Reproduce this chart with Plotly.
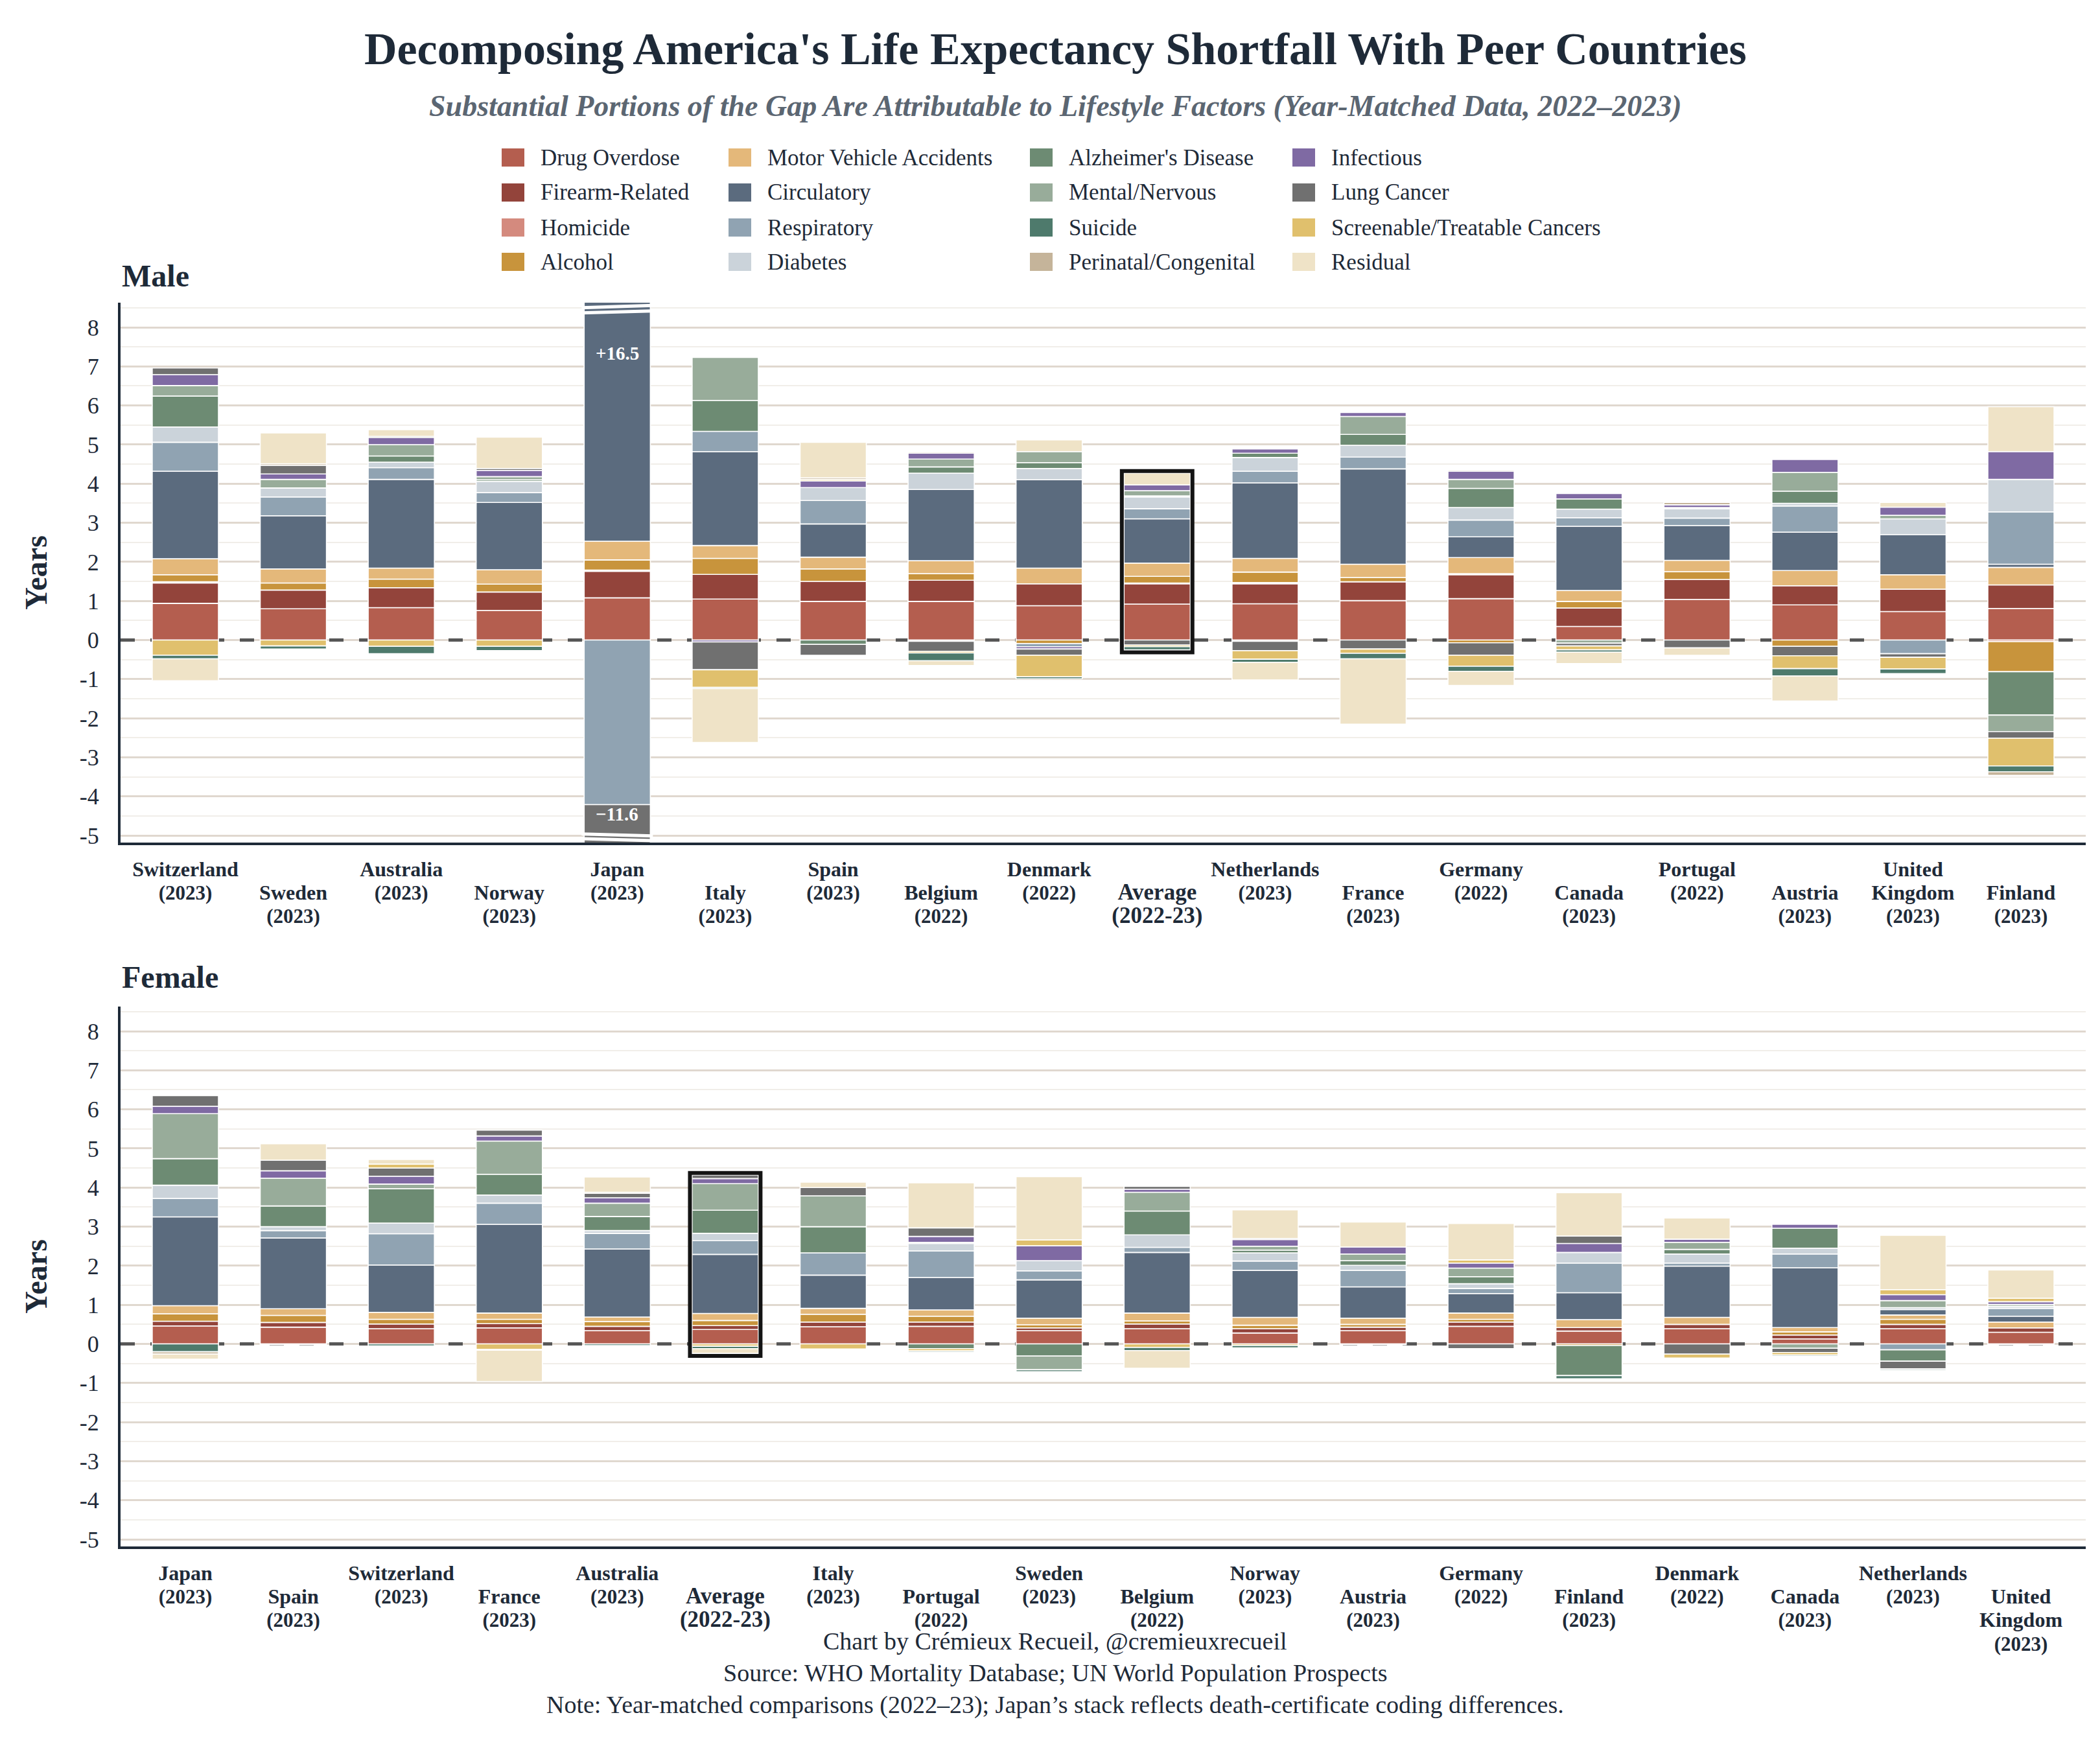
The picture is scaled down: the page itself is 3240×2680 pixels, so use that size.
import plotly.graph_objects as go

# ---- categories -------------------------------------------------------------
CAUSES = ["Drug Overdose", "Firearm-Related", "Homicide", "Alcohol",
          "Motor Vehicle Accidents", "Circulatory", "Respiratory", "Diabetes",
          "Alzheimer's Disease", "Mental/Nervous", "Infectious", "Lung Cancer",
          "Screenable/Treatable Cancers", "Suicide", "Perinatal/Congenital", "Residual"]
COLORS = ["#b45e4f", "#93443b", "#d48a7e", "#c8943c",
          "#e4b87a", "#5b6b7e", "#90a3b2", "#cbd3da",
          "#6d8b73", "#98ac9a", "#7f6aa3", "#707070",
          "#e0c06d", "#4e7a6c", "#c5b49a", "#efe3c7"]
LEGEND_COLS = [
    ["Drug Overdose", "Firearm-Related", "Homicide", "Alcohol"],
    ["Motor Vehicle Accidents", "Circulatory", "Respiratory", "Diabetes"],
    ["Alzheimer's Disease", "Mental/Nervous", "Suicide", "Perinatal/Congenital"],
    ["Infectious", "Lung Cancer", "Screenable/Treatable Cancers", "Residual"],
]

# ---- male -------------------------------------------------------------------
MALE_COUNTRIES = ["Switzerland", "Sweden", "Australia", "Norway", "Japan", "Italy",
                  "Spain", "Belgium", "Denmark", "Average", "Netherlands", "France",
                  "Germany", "Canada", "Portugal", "Austria", "United Kingdom", "Finland"]
MALE_YEARS = ["2023", "2023", "2023", "2023", "2023", "2023", "2023", "2022", "2022",
              "2022-23", "2023", "2023", "2022", "2023", "2022", "2023", "2023", "2023"]

M_DRUG = [0.94, 0.80, 0.83, 0.76, 1.08, 1.05, 0.99, 0.99, 0.88, 0.92, 0.93, 1.01, 1.06, 0.35, 1.04, 0.90, 0.73, 0.81]
M_FIRE = [0.52, 0.48, 0.51, 0.47, 0.68, 0.63, 0.51, 0.54, 0.56, 0.52, 0.51, 0.48, 0.61, 0.47, 0.51, 0.49, 0.57, 0.60]
M_HOMI = [0.03, 0, 0, 0, 0.03, 0, 0, -0.03, 0, 0.02, 0.03, 0, 0.03, 0, 0, 0, 0, -0.04]
M_ALCO = [0.18, 0.18, 0.22, 0.20, 0.26, 0.41, 0.32, 0.17, -0.09, 0.17, 0.27, 0.11, -0.07, 0.17, 0.20, -0.16, 0, -0.77]
M_MVA = [0.41, 0.36, 0.28, 0.37, 0.48, 0.33, 0.30, 0.33, 0.40, 0.34, 0.35, 0.34, 0.41, 0.28, 0.29, 0.39, 0.37, 0.45]
M_CIRC = [2.24, 1.36, 2.27, 1.72, 13.97, 2.40, 0.85, 1.82, 2.26, 1.13, 1.93, 2.44, 0.53, 1.64, 0.89, 0.98, 1.03, 0.08]
M_RESP = [0.74, 0.48, 0.30, 0.25, -4.21, 0.52, 0.60, 0, -0.08, 0.26, 0.30, 0.30, 0.43, 0.22, 0.19, 0.67, -0.35, 1.34]
M_DIAB = [0.39, 0.23, 0.14, 0.29, 0, 0, 0.33, 0.42, 0.29, 0.30, 0.35, 0.30, 0.32, 0.22, 0.24, 0.07, 0.40, 0.83]
M_ALZ = [0.79, 0, 0.16, 0.04, 0, 0.79, -0.11, 0.16, 0.15, 0.03, 0.11, 0.28, 0.49, 0.26, 0, 0.31, 0, -1.11]
M_MENT = [0.27, 0.22, 0.29, 0.08, 0, 1.10, 0, 0.20, 0.28, 0.13, -0.03, 0.46, 0.23, -0.08, 0.03, 0.48, 0.09, -0.42]
M_INF = [0.28, 0.14, 0.18, 0.16, 0, -0.05, 0.17, 0.15, -0.06, 0.15, 0.11, 0.10, 0.21, 0.14, 0.07, 0.33, 0.21, 0.71]
M_LUNG = [0.17, 0.22, 0.03, 0.05, -7.24, -0.71, -0.28, -0.26, -0.16, -0.13, -0.24, -0.23, -0.32, -0.07, -0.20, -0.24, -0.09, -0.17]
M_SCR = [-0.39, -0.15, -0.16, -0.16, 0, -0.45, 0.04, -0.04, -0.55, -0.04, -0.22, -0.11, -0.28, -0.10, 0, -0.33, -0.30, -0.71]
M_SUI = [-0.09, -0.08, -0.19, -0.11, -0.15, -0.03, 0, -0.20, -0.05, -0.08, -0.08, -0.14, -0.13, -0.06, 0, -0.19, -0.12, -0.15]
M_PERI = [0, 0.04, 0, 0, 0, 0, 0.04, 0.03, 0, 0, 0, 0, 0.03, 0, 0.06, 0, 0, -0.09]
M_RES = [-0.56, 0.79, 0.17, 0.80, 0, -1.38, 0.91, -0.12, 0.30, 0.30, -0.45, -1.67, -0.36, -0.29, -0.19, -0.64, 0.12, 1.15]

# ---- female -----------------------------------------------------------------
FEMALE_COUNTRIES = ["Japan", "Spain", "Switzerland", "France", "Australia", "Average",
                    "Italy", "Portugal", "Sweden", "Belgium", "Norway", "Austria",
                    "Germany", "Finland", "Denmark", "Canada", "Netherlands", "United Kingdom"]
FEMALE_YEARS = ["2023", "2023", "2023", "2023", "2023", "2022-23", "2023", "2022", "2023",
                "2022", "2023", "2023", "2022", "2023", "2022", "2023", "2023", "2023"]

F_DRUG = [0.46, 0.43, 0.39, 0.41, 0.34, 0.37, 0.44, 0.45, 0.34, 0.39, 0.28, 0.34, 0.45, 0.33, 0.39, 0.13, 0.39, 0.30]
F_FIRE = [0.12, 0.12, 0.12, 0.11, 0.11, 0.10, 0.12, 0.11, 0.07, 0.12, 0.11, 0.09, 0.11, 0.09, 0.11, 0.10, 0.11, 0.11]
F_HOMI = [0, 0, 0, 0, 0, 0, 0, 0, 0, 0, 0, 0, 0, 0, 0, 0, 0, 0]
F_ALCO = [0.19, 0.18, 0.12, 0.11, 0.12, 0.13, 0.20, 0.15, 0.08, 0.08, 0.09, 0.07, 0.07, -0.04, 0, 0.08, 0.13, -0.02]
F_MVA = [0.21, 0.17, 0.18, 0.16, 0.12, 0.18, 0.15, 0.16, 0.17, 0.20, 0.20, 0.16, 0.16, 0.20, 0.18, 0.11, 0.11, 0.15]
F_CIRC = [2.27, 1.81, 1.21, 2.27, 1.74, 1.51, 0.85, 0.83, 0.98, 1.55, 1.20, 0.80, 0.50, 0.69, 1.31, 1.53, 0.14, 0.15]
F_RESP = [0.47, 0.19, 0.80, 0.54, 0.40, 0.35, 0.57, 0.68, 0.23, 0.13, 0.24, 0.42, 0.13, 0.76, 0.08, 0.35, -0.15, 0.20]
F_DIAB = [0.34, 0.10, 0.27, 0.21, 0.07, 0.19, 0, 0.19, 0.26, 0.32, 0.21, 0.13, 0.12, 0.27, 0.23, 0.15, 0.05, 0.05]
F_ALZ = [0.68, 0.53, 0.88, 0.53, 0.36, 0.59, 0.67, -0.12, -0.31, 0.61, 0.07, 0.12, 0.18, -0.77, 0.12, 0.51, -0.29, 0]
F_MENT = [1.15, 0.71, 0.12, 0.85, 0.34, 0.68, 0.79, 0.03, -0.35, 0.48, 0.10, 0.17, 0.22, 0, 0.18, -0.11, 0.18, 0.05]
F_INF = [0.19, 0.19, 0.20, 0.13, 0.14, 0.13, 0, 0.15, 0.38, 0.08, 0.17, 0.18, 0.13, 0.23, 0.08, 0.10, 0.15, 0.07]
F_LUNG = [0.27, 0.27, 0.21, 0.15, 0.11, 0.09, 0.21, 0.22, 0, 0.07, 0.03, 0, -0.12, 0.19, -0.26, -0.11, -0.20, 0]
F_SCR = [0, 0, 0.10, -0.14, 0, -0.06, -0.13, -0.06, 0.15, -0.09, -0.04, 0, 0.08, 0, -0.10, -0.06, 0.13, 0.09]
F_SUI = [-0.20, -0.02, -0.05, -0.02, -0.04, -0.06, 0, -0.03, -0.05, -0.08, -0.06, -0.02, 0, -0.08, 0, -0.03, -0.03, 0]
F_PERI = [-0.06, 0, 0, 0, 0.03, 0, 0, 0, 0, 0, 0, 0, 0, 0, 0, 0, 0, 0]
F_RES = [-0.13, 0.42, 0.12, -0.80, 0.39, -0.12, 0.14, 1.15, 1.62, -0.45, 0.73, 0.64, 0.93, 1.11, 0.54, 0, 1.39, 0.72]

Y_TICKS = [-5, -4, -3, -2, -1, 0, 1, 2, 3, 4, 5, 6, 7, 8]

MALE = [M_DRUG, M_FIRE, M_HOMI, M_ALCO, M_MVA, M_CIRC, M_RESP, M_DIAB,
        M_ALZ, M_MENT, M_INF, M_LUNG, M_SCR, M_SUI, M_PERI, M_RES]
FEMALE = [F_DRUG, F_FIRE, F_HOMI, F_ALCO, F_MVA, F_CIRC, F_RESP, F_DIAB,
          F_ALZ, F_MENT, F_INF, F_LUNG, F_SCR, F_SUI, F_PERI, F_RES]

# ---- styling ----------------------------------------------------------------
W, H = 3240, 2680
FONT = "Liberation Serif"
INK = "#1e2a38"
YRANGE = [-5.18, 8.63]
XRANGE = [-0.6, 17.6]
XDOM = [178 / W, 3210 / W]


def py(p):
    return 1 - p / H


def tick_text(countries, years):
    out = []
    for i, (c, yr) in enumerate(zip(countries, years)):
        names = c.split(" ") if c == "United Kingdom" else [c]
        if c == "Average":
            lines = [f"<span style='font-size:35px'>{s}</span>" for s in names + [f"({yr})"]]
        else:
            lines = [f"<span style='font-size:32px'>{s}</span>" for s in names]
            lines.append(f"<span style='font-size:31px'>({yr})</span>")
        txt = "<br>".join(lines)
        if i % 2:
            txt = "<br>" + txt
        out.append(txt)
    return out


fig = go.Figure()
panels = [(MALE, MALE_COUNTRIES, "x", "y"), (FEMALE, FEMALE_COUNTRIES, "x2", "y2")]
for series, countries, xa, ya in panels:
    xs = list(range(len(countries)))
    for name, color, vals in zip(CAUSES, COLORS, series):
        fig.add_trace(go.Bar(
            x=xs, y=[v if v != 0 else None for v in vals], name=name,
            marker=dict(color=color, line=dict(color="white", width=1.6)),
            xaxis=xa, yaxis=ya, showlegend=False, legendgroup=name,
        ))

shapes, annos = [], []

# zero lines and average boxes
for series, countries, xa, ya in panels:
    shapes.append(dict(type="line", xref=xa, yref=ya, x0=XRANGE[0], x1=XRANGE[1], y0=0, y1=0,
                       line=dict(color="#575757", width=5, dash="22px,24px"), layer="between"))
    i = countries.index("Average")
    pos = sum(s[i] for s in series if s[i] > 0)
    neg = sum(s[i] for s in series if s[i] < 0)
    shapes.append(dict(type="rect", xref=xa, yref=ya, x0=i - 0.327, x1=i + 0.327,
                       y0=neg - 0.065, y1=pos + 0.055,
                       line=dict(color="#141414", width=6), layer="above"))

# Japan male: broken bar with totals
j = MALE_COUNTRIES.index("Japan")
jpos = sum(s[j] for s in MALE if s[j] > 0)
jneg = sum(s[j] for s in MALE if s[j] < 0)
for y0, y1 in [(8.37, 8.42), (8.50, 8.56), (-4.96, -5.01), (-5.08, -5.13)]:
    shapes.append(dict(type="line", xref="x", yref="y", x0=j - 0.33, x1=j + 0.33,
                       y0=y0, y1=y1, line=dict(color="white", width=5), layer="above"))
annos.append(dict(x=j, y=YRANGE[1] - 1.3, xref="x", yref="y", text=f"<b>+{jpos:.1f}</b>",
                  showarrow=False, font=dict(family=FONT, size=29, color="white")))
annos.append(dict(x=j, y=YRANGE[0] + 0.73, xref="x", yref="y", text=f"<b>\u2212{abs(jneg):.1f}</b>",
                  showarrow=False, font=dict(family=FONT, size=29, color="white")))

# legend (four columns)
LEG_X = [766, 1116, 1581, 1986]
LEG_Y = [235, 289, 343, 396]
cmap = dict(zip(CAUSES, COLORS))
for cx, col in zip(LEG_X, LEGEND_COLS):
    for ry, name in zip(LEG_Y, col):
        shapes.append(dict(type="rect", xref="paper", yref="paper",
                           x0=cx / W, x1=(cx + 35) / W, y0=py(ry + 14), y1=py(ry - 14),
                           fillcolor=cmap[name], line=dict(width=0)))
        annos.append(dict(x=(cx + 58) / W, y=py(ry), xref="paper", yref="paper",
                          xanchor="left", yanchor="middle", text=name, showarrow=False,
                          font=dict(family=FONT, size=35, color=INK)))

# titles and notes
annos += [
    dict(x=0.5, y=py(68), xref="paper", yref="paper", yanchor="middle", showarrow=False,
         text="<b>Decomposing America's Life Expectancy Shortfall With Peer Countries</b>",
         font=dict(family=FONT, size=70, color=INK)),
    dict(x=0.5, y=py(155), xref="paper", yref="paper", yanchor="middle", showarrow=False,
         text="<b><i>Substantial Portions of the Gap Are Attributable to Lifestyle Factors "
              "(Year-Matched Data, 2022\u20132023)</i></b>",
         font=dict(family=FONT, size=46, color="#5b6672")),
    dict(x=XDOM[0], y=py(418), xref="paper", yref="paper", xanchor="left", yanchor="middle",
         showarrow=False, text="<b>Male</b>", font=dict(family=FONT, size=48, color=INK)),
    dict(x=XDOM[0], y=py(1500), xref="paper", yref="paper", xanchor="left", yanchor="middle",
         showarrow=False, text="<b>Female</b>", font=dict(family=FONT, size=48, color=INK)),
]
FOOTER = ["Chart by Cr\u00e9mieux Recueil, @cremieuxrecueil",
          "Source: WHO Mortality Database; UN World Population Prospects",
          "Note: Year-matched comparisons (2022\u201323); Japan\u2019s stack reflects death-certificate coding differences."]
for k, line in enumerate(FOOTER):
    annos.append(dict(x=0.5, y=py(2524 + 49 * k), xref="paper", yref="paper", yanchor="middle",
                      showarrow=False, text=line, font=dict(family=FONT, size=38, color=INK)))

yaxis_common = dict(
    range=YRANGE, tickvals=Y_TICKS, ticktext=[str(v) for v in Y_TICKS], ticks="",
    tickfont=dict(family=FONT, size=36, color=INK), ticklabelstandoff=22,
    showgrid=True, gridcolor="#e0d8cf", gridwidth=3, zeroline=False,
    minor=dict(dtick=0.5, tick0=0, showgrid=True, gridcolor="#f1eee9", gridwidth=2),
    showline=True, linecolor=INK, linewidth=4, automargin=False,
    title=dict(text="<b>Years</b>", font=dict(family=FONT, size=48, color=INK), standoff=36),
)
xaxis_common = dict(
    domain=XDOM, range=XRANGE, tickmode="array", ticks="",
    tickfont=dict(family=FONT, size=28, color=INK, weight="bold"), tickangle=0,
    showgrid=False, zeroline=False, showline=True, linecolor=INK, linewidth=4,
    automargin=False, ticklabelstandoff=14,
)

fig.update_layout(
    width=W, height=H, margin=dict(l=0, r=0, t=0, b=0),
    paper_bgcolor="white", plot_bgcolor="white",
    barmode="relative", bargap=0.387, showlegend=False,
    font=dict(family=FONT, color=INK),
    xaxis=dict(xaxis_common, anchor="y", tickvals=list(range(len(MALE_COUNTRIES))),
               ticktext=tick_text(MALE_COUNTRIES, MALE_YEARS)),
    xaxis2=dict(xaxis_common, anchor="y2", tickvals=list(range(len(FEMALE_COUNTRIES))),
                ticktext=tick_text(FEMALE_COUNTRIES, FEMALE_YEARS)),
    yaxis=dict(yaxis_common, anchor="x", domain=[1 - 1292 / H, 1 - 459 / H]),
    yaxis2=dict(yaxis_common, anchor="x2", domain=[1 - 2378 / H, 1 - 1545 / H]),
    shapes=shapes, annotations=annos,
)

fig.write_html("out.html")
